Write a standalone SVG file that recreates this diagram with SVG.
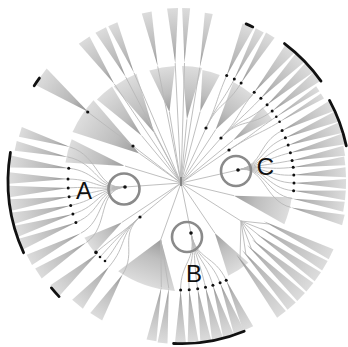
<svg xmlns="http://www.w3.org/2000/svg" width="348" height="347" viewBox="0 0 348 347">
<style>
.w{fill:url(#g);stroke:none}
.f{fill:url(#g2);stroke:none}
.ln{fill:none;stroke:#b8b8b8;stroke-width:0.9}
.bar{fill:none;stroke:#111;stroke-width:2.8;stroke-linecap:round}
.d{fill:#111}
.ring{fill:none;stroke:#8a8a8a;stroke-width:2.6}
.lab{font-family:"Liberation Sans",Arial,sans-serif;font-size:24px;fill:#111;text-anchor:middle}
</style>
<defs>
<linearGradient id="g" x1="0" y1="0" x2="1" y2="0"><stop offset="0" stop-color="#8c8c8c"/><stop offset="0.3" stop-color="#b6b6b6"/><stop offset="1" stop-color="#dcdcdc"/></linearGradient>
<linearGradient id="g2" x1="0" y1="0" x2="1" y2="0"><stop offset="0" stop-color="#9a9a9a"/><stop offset="0.4" stop-color="#bebebe"/><stop offset="1" stop-color="#dddddd"/></linearGradient>
</defs>
<rect width="348" height="347" fill="#fff"/>
<g id="inner-fans" transform="translate(181 181)">
<path class="f" transform="rotate(-165)" d="M58,0L116.4,-12A117,117 0 0 1 116.4,12Z"/>
<path class="f" transform="rotate(-146.5)" d="M50,0L117.5,-19A119,119 0 0 1 117.5,19Z"/>
<path class="f" transform="rotate(-131)" d="M60,0L116.6,-10A117,117 0 0 1 116.6,10Z"/>
<path class="f" transform="rotate(-119)" d="M55,0L115.3,-13A116,116 0 0 1 115.3,13Z"/>
<path class="f" transform="rotate(-99.5)" d="M70,0L114.3,-13A115,115 0 0 1 114.3,13Z"/>
<path class="f" transform="rotate(-84.5)" d="M62,0L114.6,-10A115,115 0 0 1 114.6,10Z"/>
<path class="f" transform="rotate(-74.5)" d="M72,0L112.6,-9A113,113 0 0 1 112.6,9Z"/>
<path class="f" transform="rotate(-56)" d="M62,0L111.4,-12A112,112 0 0 1 111.4,12Z"/>
<path class="f" transform="rotate(-38)" d="M66,0L109.7,-8A110,110 0 0 1 109.7,8Z"/>
<path class="f" transform="rotate(15.5)" d="M55,0L111.1,-14A112,112 0 0 1 111.1,14Z"/>
<path class="f" transform="rotate(57)" d="M62,0L105.3,-12A106,106 0 0 1 105.3,12Z"/>
<path class="f" transform="rotate(109)" d="M62,0L105.9,-30A110,110 0 0 1 105.9,30Z"/>
<path class="f" transform="rotate(145)" d="M72,0L111.6,-9A112,112 0 0 1 111.6,9Z"/>
</g>
<g id="outer-fans" transform="translate(181 181)">
<path class="w" transform="rotate(-143.3)" d="M116,0L175,-10L175,10Z"/>
<path class="w" transform="rotate(-124.5)" d="M118,0L171,-6.5L171,6.5Z"/>
<path class="w" transform="rotate(-118)" d="M118,0L171,-6L171,6Z"/>
<path class="w" transform="rotate(-113.5)" d="M118,0L171,-5L171,5Z"/>
<path class="w" transform="rotate(-101.5)" d="M117,0L172,-5L172,5Z"/>
<path class="w" transform="rotate(-92.8)" d="M118,0L173,-5.5L173,5.5Z"/>
<path class="w" transform="rotate(-88.3)" d="M118,0L173,-4L173,4Z"/>
<path class="w" transform="rotate(-80.6)" d="M115,0L170,-4L170,4Z"/>
<path class="w" transform="rotate(-66.6)" d="M115,0L169,-6L169,6Z"/>
<path class="w" transform="rotate(-62.4)" d="M115,0L170,-4.5L170,4.5Z"/>
<path class="w" transform="rotate(-58.5)" d="M115,0L171,-5L171,5Z"/>
<path class="w" transform="rotate(-50.5)" d="M115,0L171,-6L171,6Z"/>
<path class="w" transform="rotate(-46)" d="M115,0L171,-6L171,6Z"/>
<path class="w" transform="rotate(-41.5)" d="M115,0L171,-6L171,6Z"/>
<path class="w" transform="rotate(-37.5)" d="M115,0L171,-5.5L171,5.5Z"/>
<path class="w" transform="rotate(-34)" d="M115,0L165,-3L165,3Z"/>
<path class="w" transform="rotate(-31)" d="M115,0L165,-3L165,3Z"/>
<path class="w" transform="rotate(-26.5)" d="M113,0L168,-5.5L168,5.5Z"/>
<path class="w" transform="rotate(-22.5)" d="M113,0L168,-5.5L168,5.5Z"/>
<path class="w" transform="rotate(-18.5)" d="M113,0L168,-5.5L168,5.5Z"/>
<path class="w" transform="rotate(-14.5)" d="M113,0L168,-5.5L168,5.5Z"/>
<path class="w" transform="rotate(-10.5)" d="M113,0L166,-5L166,5Z"/>
<path class="w" transform="rotate(-7)" d="M113,0L165,-4.5L165,4.5Z"/>
<path class="w" transform="rotate(-3)" d="M113,0L165,-5L165,5Z"/>
<path class="w" transform="rotate(1)" d="M113,0L165,-5L165,5Z"/>
<path class="w" transform="rotate(5)" d="M113,0L165,-5L165,5Z"/>
<path class="w" transform="rotate(9)" d="M113,0L165,-5L165,5Z"/>
<path class="w" transform="rotate(13.5)" d="M113,0L167,-5.5L167,5.5Z"/>
<path class="w" transform="rotate(26)" d="M92,0L167,-5.5L167,5.5Z"/>
<path class="w" transform="rotate(30.5)" d="M92,0L167,-5.5L167,5.5Z"/>
<path class="w" transform="rotate(35)" d="M92,0L167,-5.5L167,5.5Z"/>
<path class="w" transform="rotate(39.5)" d="M92,0L167,-5.5L167,5.5Z"/>
<path class="w" transform="rotate(44)" d="M92,0L167,-5.5L167,5.5Z"/>
<path class="w" transform="rotate(48.5)" d="M92,0L167,-5.5L167,5.5Z"/>
<path class="w" transform="rotate(53)" d="M92,0L167,-5.5L167,5.5Z"/>
<path class="w" transform="rotate(65.5)" d="M109,0L162,-5.5L162,5.5Z"/>
<path class="w" transform="rotate(69)" d="M109,0L162,-5.5L162,5.5Z"/>
<path class="w" transform="rotate(73)" d="M109,0L162,-5.5L162,5.5Z"/>
<path class="w" transform="rotate(77)" d="M109,0L162,-5.5L162,5.5Z"/>
<path class="w" transform="rotate(81.2)" d="M109,0L162,-5.5L162,5.5Z"/>
<path class="w" transform="rotate(85.7)" d="M109,0L162,-5.5L162,5.5Z"/>
<path class="w" transform="rotate(90.2)" d="M109,0L162,-5.5L162,5.5Z"/>
<path class="w" transform="rotate(96.5)" d="M108,0L163,-5L163,5Z"/>
<path class="w" transform="rotate(100.5)" d="M108,0L162,-5L162,5Z"/>
<path class="w" transform="rotate(122)" d="M110,0L160,-7L160,7Z"/>
<path class="w" transform="rotate(130)" d="M112,0L161,-7L161,7Z"/>
<path class="w" transform="rotate(139)" d="M111,0L167,-7L167,7Z"/>
<path class="w" transform="rotate(147)" d="M113,0L170,-6L170,6Z"/>
<path class="w" transform="rotate(152.5)" d="M113,0L171,-5.8L171,5.8Z"/>
<path class="w" transform="rotate(158.5)" d="M113,0L172,-5.8L172,5.8Z"/>
<path class="w" transform="rotate(163)" d="M113,0L172,-5.8L172,5.8Z"/>
<path class="w" transform="rotate(167.5)" d="M113,0L172,-5.8L172,5.8Z"/>
<path class="w" transform="rotate(172)" d="M113,0L172,-5.8L172,5.8Z"/>
<path class="w" transform="rotate(176.5)" d="M113,0L172,-5.8L172,5.8Z"/>
<path class="w" transform="rotate(181)" d="M113,0L172,-5.8L172,5.8Z"/>
<path class="w" transform="rotate(186.5)" d="M113,0L172,-6L172,6Z"/>
<path class="w" transform="rotate(-168)" d="M116,0L169,-5L169,5Z"/>
<path class="w" transform="rotate(-163)" d="M116,0L168,-5L168,5Z"/>
</g>
<g id="connectors">
<path class="ln" d="M181,183L125,187M181,183L191,233M181,183L238,170M181,183L133,146M181,183L140,217M181,183L206,128M181,183L221,138M181,183L229,150M181,183L241,221"/>
<path class="ln" d="M181,183L125,166M181,183L139.3,153.4M181,183L141.6,135.7M181,183L154.3,132.9M181,183L169.4,112M181,183L186.9,119.3M181,183L200.2,111.6M181,183L215.7,129.6M181,183L233,140.4M181,183L234,195.7M181,183L214.8,233M181,183L160.8,239.6M181,183L122,222.3"/>
<path class="ln" d="M181,183L114.2,83.8M181,183L125.6,76.8M181,183L134,72.8M181,183L157.7,66.4M181,183L175.2,63.1M181,183L184.5,63M181,183L199.8,67.5"/>
<path class="ln" d="M125,187C96.5,189.9 99.7,156.1 70.1,147.1M125,187C96.5,189.9 97.9,163.3 67.5,156.9M125,187C96.5,189.9 96.5,171.4 68.7,168.2M125,187C96.5,189.9 96,179.5 68,179M125,187C96.5,189.9 96.2,186.2 68.2,187.9M125,187C96.5,189.9 96.8,192.8 69.1,196.7M125,187C96.5,189.9 98,199.4 70.7,205.5M125,187C96.5,189.9 99.7,205.9 72.9,214M125,187C96.5,189.9 101.9,212.2 75.9,222.4M125,187C96.5,189.9 105.6,220.2 80.8,233.2M125,187C96.5,189.9 109.7,227.3 86.2,242.5"/>
<path class="ln" d="M191,233C196.5,260.5 180.7,262 180.6,290M191,233C196.5,260.5 187.1,261.8 189.2,289.7M191,233C196.5,260.5 193.4,261 197.7,288.7M191,233C196.5,260.5 199.2,259.9 205.5,287.2M191,233C196.5,260.5 204.7,258.5 212.9,285.2M191,233C196.5,260.5 210,256.6 220.1,282.8M191,233C196.5,260.5 214.6,254.7 226.2,280.2"/>
<path class="ln" d="M238,170C264.4,164.3 257.1,143.1 282.1,130.6M238,170C264.4,164.3 259.5,148.5 285.4,137.8M238,170C264.4,164.3 261.6,154 288.2,145.1M238,170C264.4,164.3 263.3,159.7 290.4,152.7M238,170C264.4,164.3 264.6,165.5 292.1,160.4M238,170C264.4,164.3 265.4,170.6 293.2,167.2M238,170C264.4,164.3 265.9,176.6 293.8,175.1M238,170C264.4,164.3 266,182.5 294,183M238,170C264.4,164.3 265.7,188.4 293.6,190.8M238,170C264.4,164.3 265,194.3 292.6,198.7M238,170C264.4,164.3 263.7,200.8 290.9,207.4"/>
<path class="ln" d="M206,128C218.2,102.3 215.5,101.2 226.7,75.5M206,128C218.2,102.3 221.3,103.9 234.3,79.1M206,128C218.2,102.3 226.5,106.8 241.1,83M221,138C240.3,117.4 236.3,113.9 254.2,92.3M221,138C240.3,117.4 241.4,118.4 260.9,98.3M221,138C240.3,117.4 246.2,123.4 267.1,104.8M221,138C240.3,117.4 250,128 272.2,111M229,150C254,133.6 253.1,132.4 276.3,116.7M229,150C254,133.6 255.6,136.2 279.6,121.8"/>
<path class="ln" d="M133,146L87.7,112M140,217C118.6,235.8 117.4,234.4 96,252.4M140,217C118.6,235.8 127.6,244.6 109,266.8M140,217C118.6,235.8 137,251.4 122.7,274.3M140,217C118.6,235.8 112,244 100,257M140,217C118.6,235.8 118,246 105,261M160.8,239.6L161.3,287.2M160.8,239.6L168.8,288.3"/>
<path class="ln" d="M241,221L269.1,224M241,221L265.4,230.7M241,221L261.3,237.2M241,221L256.6,243.3M241,221L251.5,249.1M241,221L245.9,254.4M241,221L240,259.3"/>
<path d="M181,177L181,186" stroke="#777" stroke-width="1.6"/>
</g>
<g id="bars">
<path class="bar" d="M10.4,152.5A173,173 0 0 0 23.6,252.7"/>
<path class="bar" d="M173.6,343.5A163,163 0 0 0 244.2,331.3"/>
<path class="bar" d="M329.5,100.4A169,169 0 0 1 346.3,145.9"/>
<path class="bar" d="M284.5,43.6A172,172 0 0 1 321,81.1"/>
<path class="bar" d="M246.1,23.9A170,170 0 0 1 252.8,26.9"/>
<path class="bar" d="M34.2,85.7A175,175 0 0 1 39.4,78.1"/>
<path class="bar" d="M51.4,287.9A168,168 0 0 0 59.1,296.6"/>
</g>
<g id="dots" class="d">
<circle cx="87.7" cy="112" r="1.6"/><circle cx="133" cy="146" r="1.6"/><circle cx="140" cy="217" r="1.6"/>
<circle cx="206" cy="128" r="1.6"/><circle cx="221" cy="138" r="1.6"/><circle cx="229" cy="150" r="1.6"/>
<circle cx="226.7" cy="75.5" r="1.5"/><circle cx="234.3" cy="79.1" r="1.5"/><circle cx="241.1" cy="83" r="1.5"/>
<circle cx="254.2" cy="92.3" r="1.5"/><circle cx="260.9" cy="98.3" r="1.5"/><circle cx="267.1" cy="104.8" r="1.5"/><circle cx="272.2" cy="111" r="1.5"/><circle cx="276.3" cy="116.7" r="1.3"/><circle cx="279.6" cy="121.8" r="1.3"/>
<circle cx="282.1" cy="130.6" r="1.5"/><circle cx="285.4" cy="137.8" r="1.5"/><circle cx="288.2" cy="145.1" r="1.5"/><circle cx="290.4" cy="152.7" r="1.5"/><circle cx="292.1" cy="160.4" r="1.5"/><circle cx="293.2" cy="167.2" r="1.5"/><circle cx="293.8" cy="175.1" r="1.5"/><circle cx="294" cy="183" r="1.5"/><circle cx="293.6" cy="190.8" r="1.5"/>
<circle cx="180.6" cy="290" r="1.5"/><circle cx="189.2" cy="289.7" r="1.5"/><circle cx="197.7" cy="288.7" r="1.5"/><circle cx="205.5" cy="287.2" r="1.5"/><circle cx="212.9" cy="285.2" r="1.5"/><circle cx="220.1" cy="282.8" r="1.5"/><circle cx="226.2" cy="280.2" r="1.5"/>
<circle cx="68.7" cy="168.2" r="1.5"/><circle cx="68" cy="179" r="1.5"/><circle cx="68.2" cy="187.9" r="1.5"/><circle cx="69.1" cy="196.7" r="1.5"/><circle cx="70.7" cy="205.5" r="1.5"/><circle cx="72.9" cy="214" r="1.5"/><circle cx="75.9" cy="222.4" r="1.5"/>
<circle cx="96" cy="252.4" r="1.8"/><circle cx="100" cy="257" r="1.3"/><circle cx="105" cy="261" r="1.3"/>
</g>
<g id="node-A"><circle class="ring" cx="124" cy="189" r="15.5"/><circle class="d" cx="125" cy="187" r="1.8"/><text class="lab" x="84" y="199">A</text></g>
<g id="node-B"><circle class="ring" cx="187" cy="237" r="15"/><circle class="d" cx="191" cy="233" r="1.8"/><text class="lab" x="194" y="282">B</text></g>
<g id="node-C"><circle class="ring" cx="236" cy="171" r="15"/><circle class="d" cx="238" cy="170" r="1.8"/><text class="lab" x="265.5" y="175">C</text></g>
</svg>
